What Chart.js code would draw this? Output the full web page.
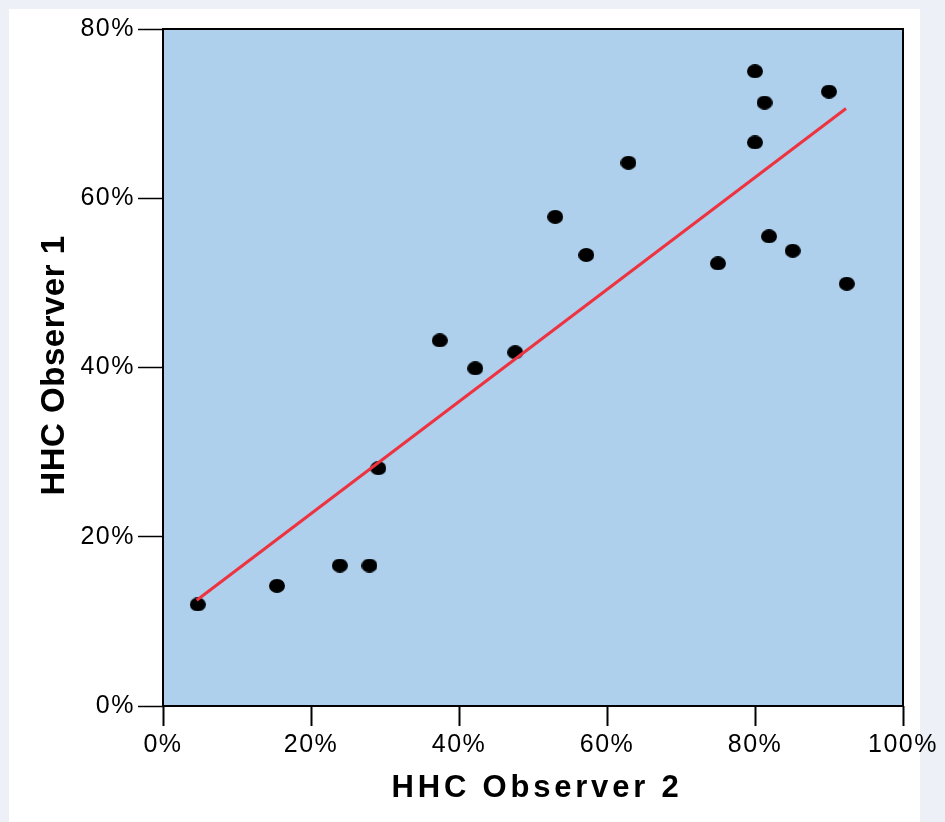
<!DOCTYPE html>
<html>
<head>
<meta charset="utf-8">
<script src="https://cdn.jsdelivr.net/npm/chart.js@4/dist/chart.umd.min.js"></script>
<style>
  html, body { margin: 0; padding: 0; }
  body { width: 945px; height: 822px; background: #edf1f7; position: relative; overflow: hidden; }
  #panel { position: absolute; left: 9px; top: 9px; width: 911px; height: 813px; background: #fff; }
  #wrap { position: absolute; left: 0; top: 0; width: 945px; height: 822px; }
</style>
</head>
<body>
<div id="panel"></div>
<div id="wrap"><canvas id="chart" width="945" height="822"></canvas></div>
<script>
// HHC, observateur 2 (axe x) et observateur 1 (axe y), en %
const observer2 = [4.7, 15.4, 23.9, 27.9, 29.1, 37.4, 42.2, 47.6, 53.0, 57.2, 62.9, 75.0, 80.0, 81.3, 80.0, 81.9, 85.1, 90.0, 92.4];
const observer1 = [12.0, 14.2, 16.6, 16.6, 28.1, 43.2, 39.9, 41.8, 57.8, 53.3, 64.2, 52.3, 75.0, 71.3, 66.6, 55.5, 53.8, 72.6, 49.9];

// Droite de régression (extrémités)
const fitX = [4.55, 92.3];
const fitY = [12.5, 70.6];

// Graduations
const xTicks = [0, 20, 40, 60, 80, 100];
const yTicks = [0, 20, 40, 60, 80];

const xTitle = 'HHC Observer 2';
const yTitle = 'HHC Observer 1';

// Point elliptique noir (plus large que haut)
function makeDot(w, h) {
    const c = document.createElement('canvas');
    c.width = w; c.height = h;
    const g = c.getContext('2d');
    g.fillStyle = '#000';
    g.beginPath();
    g.ellipse(w / 2, h / 2, w / 2, h / 2, 0, 0, Math.PI * 2);
    g.fill();
    return c;
}
const dot = makeDot(16, 14);

// Fond bleu, cadre et titres d'axes (avec espacement des lettres)
const plotFrame = {
    id: 'plotFrame',
    beforeDraw(chart) {
        const { ctx, chartArea: a } = chart;
        ctx.save();
        ctx.fillStyle = '#aed0ed';
        ctx.fillRect(a.left, a.top, a.right - a.left, a.bottom - a.top);
        ctx.restore();
        ctx.letterSpacing = '1.5px';   // pour les libellés des graduations
    },
    beforeDatasetsDraw(chart) {
        const { ctx, chartArea: a } = chart;
        ctx.save();
        ctx.letterSpacing = '0px';
        ctx.strokeStyle = '#000';
        ctx.lineWidth = 2;
        ctx.strokeRect(a.left, a.top, a.right - a.left, a.bottom - a.top);
        ctx.restore();
    },
    afterDraw(chart) {
        const { ctx, chartArea: a } = chart;
        ctx.save();
        ctx.fillStyle = '#000';
        ctx.textAlign = 'center';
        ctx.textBaseline = 'alphabetic';
        ctx.font = 'bold 31px "Liberation Sans", Arial, sans-serif';
        ctx.letterSpacing = '3.8px';
        ctx.fillText(xTitle, (a.left + a.right) / 2 + 4, a.bottom + 91);
        ctx.translate(a.left - 108, (a.top + a.bottom) / 2 - 2);
        ctx.rotate(-Math.PI / 2);
        ctx.textBaseline = 'middle';
        ctx.font = 'bold 33px "Liberation Sans", Arial, sans-serif';
        ctx.letterSpacing = '0.5px';
        ctx.fillText(yTitle, 0, 0);
        ctx.restore();
        ctx.letterSpacing = '0px';
    }
};

const tickFont = { family: '"Liberation Sans", Arial, sans-serif', size: 25 };

new Chart(document.getElementById('chart').getContext('2d'), {
    type: 'scatter',
    data: {
        datasets: [{
            label: 'Observations',
            data: observer2.map((x, i) => ({ x: x, y: observer1[i] })),
            pointStyle: dot,
            order: 1
        }, {
            label: 'Régression',
            data: fitX.map((x, i) => ({ x: x, y: fitY[i] })),
            showLine: true,
            borderColor: '#ee3340',
            borderWidth: 3,
            pointRadius: 0,
            order: 0
        }]
    },
    options: {
        responsive: false,
        animation: false,
        layout: { padding: { top: 29, right: 42, bottom: 0, left: 0 } },
        plugins: {
            legend: { display: false },
            tooltip: { enabled: false }
        },
        scales: {
            x: {
                type: 'linear',
                min: 0,
                max: 100,
                afterBuildTicks: (scale) => { scale.ticks = xTicks.map(v => ({ value: v })); },
                afterFit: (scale) => { scale.height = 116; },
                grid: { drawOnChartArea: false, tickLength: 20, tickColor: '#000', tickWidth: 2 },
                border: { display: false },
                ticks: {
                    color: '#000',
                    font: tickFont,
                    padding: 4,
                    maxRotation: 0,
                    callback: (v) => v + '%'
                }
            },
            y: {
                type: 'linear',
                min: 0,
                max: 80,
                afterBuildTicks: (scale) => { scale.ticks = yTicks.map(v => ({ value: v })); },
                afterFit: (scale) => { scale.width = 163; },
                grid: { drawOnChartArea: false, tickLength: 25, tickColor: '#000', tickWidth: 1.5 },
                border: { display: false },
                ticks: {
                    color: '#000',
                    font: tickFont,
                    padding: 3,
                    callback: (v) => v + '%'
                }
            }
        }
    },
    plugins: [plotFrame]
});
</script>
</body>
</html>
